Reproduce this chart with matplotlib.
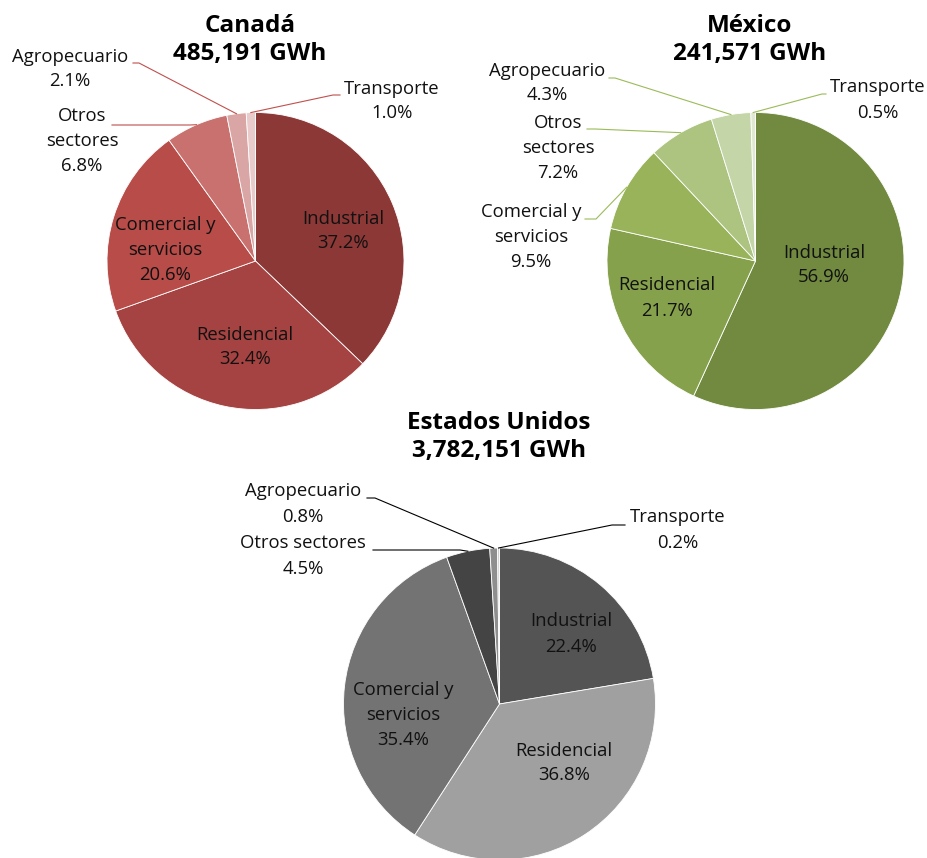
import matplotlib
matplotlib.use("Agg")
import matplotlib.pyplot as plt
import numpy as np

plt.rcParams['font.family'] = ['Open Sans', 'DejaVu Sans']

# data
sectors = ["Industrial", "Residencial", "Comercial y\nservicios", "Otros\nsectores",
           "Agropecuario", "Transporte"]
canada = [37.2, 32.4, 20.6, 6.8, 2.1, 1.0]
mexico = [56.9, 21.7, 9.5, 7.2, 4.3, 0.5]
usa = [22.4, 36.8, 35.4, 4.5, 0.8, 0.2]
titles = ["Canadá\n485,191 GWh", "México\n241,571 GWh", "Estados Unidos\n3,782,151 GWh"]

canada_colors = ["#8B3836", "#A44341", "#B74C49", "#C9716E", "#D9A6A5", "#E8CBCA"]
mexico_colors = ["#718A3F", "#86A14B", "#98B359", "#ACC480", "#C4D5A8", "#DFE8D0"]
usa_colors = ["#545454", "#A0A0A0", "#737373", "#444444", "#8E8E8E", "#CFCFCF"]

# layout in pixels: (center, radius, title pos, line colour)
charts = [
    dict(values=canada, colors=canada_colors, center=(255.5, 261), r=148.5,
         title=(250, 40), line="#C0504D",
         inside={0: (343, 231), 1: (245, 347), 2: (165, 250)},
         outside={3: ((82, 141), (112, 125), (190, 125)),
                  4: ((70, 69), (133, 63), (139, 63)),
                  5: ((392, 101), (340, 95), (333, 95))}),
    dict(values=mexico, colors=mexico_colors, center=(755.5, 261), r=148.5,
         title=(750, 40), line="#9BBB59",
         inside={0: (824, 265), 1: (667, 298)},
         outside={2: ((531, 237), (585, 219), (596, 219)),
                  3: ((558, 148), (587, 129), (595, 129)),
                  4: ((547, 83), (609, 78), (615, 78)),
                  5: ((878, 100), (826, 94), (822, 94))}),
    dict(values=usa, colors=usa_colors, center=(499.5, 704), r=156,
         title=(499, 437), line="#000000",
         inside={0: (571, 634), 1: (564, 763), 2: (403, 715)},
         outside={3: ((303, 556), (373, 550), (460, 550)),
                  4: ((303, 504), (367, 498), (375, 498)),
                  5: ((678, 530), (625, 525), (612, 525))}),
]

fig = plt.figure(figsize=(9.28, 8.58), dpi=100)
ax = fig.add_axes([0, 0, 1, 1])

for i, c in enumerate(charts):
    wedges, _ = ax.pie(c["values"], colors=c["colors"], center=c["center"], radius=c["r"],
                       startangle=-90, counterclock=True,
                       wedgeprops=dict(edgecolor="white", linewidth=0.6))
    ax.text(c["title"][0], c["title"][1], titles[i], ha="center", va="center",
            fontsize=17.5, fontweight="bold", linespacing=1.25)

    for k, w in enumerate(wedges):
        name = sectors[k]
        if i == 2 and k == 3:
            name = "Otros sectores"
        label = "%s\n%.1f%%" % (name, c["values"][k])
        if k in c["inside"]:
            x, y = c["inside"][k]
            ax.text(x, y, label, ha="center", va="center", fontsize=13.3,
                    linespacing=1.5, color="#111111")
        else:
            (tx, ty), start, knee = c["outside"][k]
            ax.text(tx, ty, label, ha="center", va="center", fontsize=13.3,
                    linespacing=1.5, color="#111111")
            mid = np.deg2rad((w.theta1 + w.theta2) / 2)
            ex = c["center"][0] + c["r"] * np.cos(mid)
            ey = c["center"][1] + c["r"] * np.sin(mid)
            ax.plot([start[0], knee[0], ex], [start[1], knee[1], ey],
                    color=c["line"], lw=0.8)

ax.set_xlim(0, 928)
ax.set_ylim(858, 0)
ax.set_aspect("auto")
ax.axis("off")

fig.savefig("out.png", dpi=100)
